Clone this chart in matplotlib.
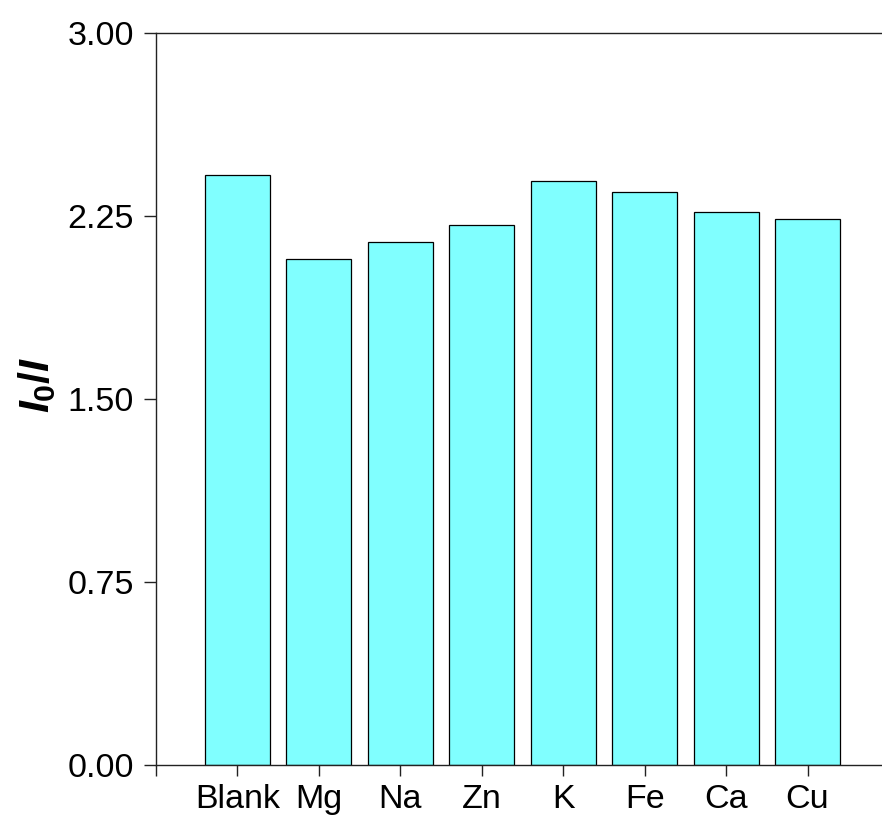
import matplotlib
matplotlib.use("Agg")
import matplotlib.pyplot as plt

plt.rcParams['font.family'] = ['Liberation Sans', 'DejaVu Sans']
plt.rcParams['mathtext.fontset'] = 'custom'
plt.rcParams['mathtext.it'] = 'Liberation Sans:italic:bold'
plt.rcParams['mathtext.rm'] = 'Liberation Sans:bold'

categories = ["Blank", "Mg", "Na", "Zn", "K", "Fe", "Ca", "Cu"]
ratios = [2.418, 2.075, 2.145, 2.214, 2.395, 2.348, 2.268, 2.237]
y_ticks = [0.00, 0.75, 1.50, 2.25, 3.00]

W, H = 882, 816
fig = plt.figure(figsize=(W / 100, H / 100), dpi=100)
left, right, top, bottom = 156, 889, 33.3, 764.7
ax = fig.add_axes([left / W, 1 - bottom / H, (right - left) / W, (bottom - top) / H])

positions = list(range(1, len(categories) + 1))
ax.bar(positions, ratios, width=0.8, color='#80FFFF', edgecolor='black', linewidth=0.9)

ax.set_xlim(0, 9)
ax.set_ylim(0, 3.0)
ax.set_yticks(y_ticks)
ax.set_yticklabels([f"{v:.2f}" for v in y_ticks])
ax.set_xticks([0] + positions + [9])
ax.set_xticklabels([""] + categories + [""])

ax.spines['right'].set_visible(False)
for s in ('left', 'top', 'bottom'):
    ax.spines[s].set_color('#222222')
    ax.spines[s].set_linewidth(1.0)
ax.tick_params(direction='out', length=8, width=1.0, color='#222222',
               labelsize=24.5, pad=6)
ax.tick_params(axis='y', length=9, pad=7)

# y-axis title, placed in figure pixels
fig.text(37 / W, 1 - 385 / H, r'$I_0/I$', fontsize=31, rotation=90,
         ha='center', va='center')

fig.savefig("out.png", dpi=100)
